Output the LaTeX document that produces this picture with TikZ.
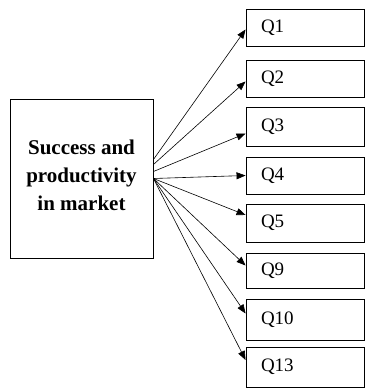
\documentclass[tikz,border=0pt]{standalone}
\usepackage{fontspec}
\setmainfont{Liberation Serif}
\usetikzlibrary{arrows.meta}
\tikzset{
	mainbox/.style={draw, line width=0.9pt, minimum width=143pt, minimum height=159pt, align=center, inner sep=0pt, text depth=7pt, font=\fontsize{21}{28}\selectfont\bfseries},
	qbox/.style={draw, line width=0.9pt, text width=88pt, inner xsep=15pt, inner ysep=0pt, minimum height=38pt, align=left, font=\fontsize{19}{22}\selectfont},
}
\begin{document}
\begin{tikzpicture}[x=1pt, y=1pt, >={Triangle[length=9pt, width=7pt]}]
	\useasboundingbox (0,0) rectangle (365,-390);
	\node[mainbox] (succ) at (81.5,-178.5) {Success and\\productivity\\in market};
	
	\node[qbox, minimum height=37pt] (q1) at (305,-27.5) {Q1};
	\node[qbox, minimum height=37pt] (q2) at (305,-78.5) {Q2};
	\node[qbox, minimum height=39pt] (q3) at (305,-126.5) {Q3};
	\node[qbox, minimum height=37pt] (q4) at (305,-175.5) {Q4};
	\node[qbox] (q5) at (305,-223) {Q5};
	\node[qbox, minimum height=35pt] (q9) at (305,-270.5) {Q9};
	\node[qbox, minimum height=41pt] (q10) at (305,-319.5) {Q10};
	\node[qbox, minimum height=40pt] (q13) at (305,-367) {Q13};
	
	\draw[line width=0.6pt, ->] ([yshift=19pt]succ.east) -- ([yshift=-2pt]q1.west);
	\draw[line width=0.6pt, ->] ([yshift=14pt]succ.east) -- ([yshift=-3pt]q2.west);
	\draw[line width=0.6pt, ->] ([yshift=7pt]succ.east) -- ([yshift=-7pt]q3.west);
	\draw[line width=0.6pt, ->] (succ.east) -- (q4.west);
	\draw[line width=0.6pt, ->] (succ.east) -- ([yshift=8pt]q5.west);
	\draw[line width=0.6pt, ->] (succ.east) -- ([yshift=5pt]q9.west);
	\draw[line width=0.6pt, ->] (succ.east) -- ([yshift=6pt]q10.west);
	\draw[line width=0.6pt, ->] (succ.east) -- ([yshift=7pt]q13.west);
\end{tikzpicture}
\end{document}
